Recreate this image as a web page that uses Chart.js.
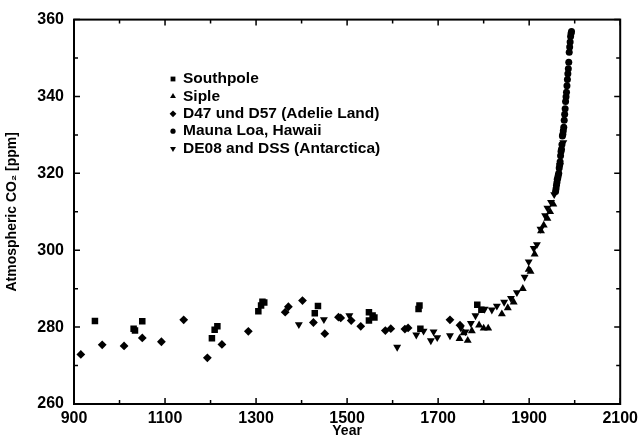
<!DOCTYPE html>
<html>
<head>
<meta charset="utf-8">
<script src="https://cdn.jsdelivr.net/npm/chart.js@4/dist/chart.umd.min.js"></script>
<style>
  html, body { margin: 0; padding: 0; background: #fff; }
  #wrap { width: 643px; height: 440px; }
</style>
</head>
<body>
<div id="wrap"><canvas id="myChart" width="643" height="440"></canvas></div>
<script>
// values
const southpoleYears = [946, 1031, 1034, 1050, 1203, 1209, 1215, 1305, 1311, 1314, 1318, 1429, 1436, 1548, 1548, 1556, 1560, 1657, 1659, 1661, 1786, 1795];
const southpoleCO2 = [281.6, 279.6, 279.1, 281.5, 277.1, 279.3, 280.2, 284.1, 285.6, 286.6, 286.4, 283.6, 285.5, 283.9, 281.7, 283.0, 282.5, 284.7, 285.6, 279.6, 285.8, 284.5];

const sipleYears = [1747, 1756, 1765, 1774, 1790, 1800, 1810, 1840, 1853, 1866, 1886, 1899, 1903, 1912, 1926, 1932, 1940, 1946, 1953];
const sipleCO2 = [277.0, 278.5, 276.5, 279.0, 280.5, 279.7, 279.7, 283.4, 285.0, 286.5, 290.0, 295.0, 294.5, 299.0, 305.0, 306.5, 308.3, 310.0, 312.0];

const adelieYears = [915, 962, 1010, 1050, 1092, 1141, 1193, 1225, 1283, 1364, 1371, 1402, 1426, 1451, 1481, 1486, 1509, 1530, 1584, 1596, 1627, 1634, 1726, 1748];
const adelieCO2 = [272.9, 275.4, 275.1, 277.2, 276.2, 281.9, 272.0, 275.5, 278.9, 283.9, 285.3, 286.9, 281.2, 278.3, 282.6, 282.4, 281.7, 280.2, 279.1, 279.6, 279.5, 279.8, 281.9, 280.5];

const maunaLoaYears = [1958, 1959, 1960, 1961, 1962, 1963, 1964, 1965, 1966, 1967, 1968, 1969, 1970, 1971, 1972, 1973, 1974, 1975, 1976, 1977, 1978, 1979, 1980, 1981, 1982, 1983, 1984, 1985, 1986, 1987, 1988, 1989, 1990, 1991, 1992, 1993];
const maunaLoaCO2 = [315.3, 316.0, 316.9, 317.6, 318.5, 319.0, 319.6, 320.0, 321.4, 322.2, 323.0, 324.6, 325.7, 326.3, 327.5, 329.7, 330.2, 331.1, 332.0, 333.8, 335.4, 336.8, 338.7, 339.9, 341.1, 342.8, 344.4, 345.9, 347.2, 348.9, 351.5, 352.9, 354.2, 355.6, 356.4, 356.9];

const de08Years = [1394, 1449, 1505, 1610, 1652, 1668, 1684, 1690, 1698, 1726, 1750, 1760, 1772, 1782, 1802, 1818, 1829, 1845, 1860, 1873, 1890, 1899, 1910, 1917, 1925, 1935, 1940, 1948, 1955, 1962, 1968, 1975];
const de08CO2 = [280.7, 282.0, 283.0, 274.8, 278.0, 279.0, 276.5, 278.8, 277.3, 277.8, 279.8, 278.8, 281.0, 283.0, 284.7, 284.5, 285.5, 286.5, 287.5, 289.0, 293.0, 297.0, 300.5, 301.5, 305.5, 309.0, 311.0, 312.5, 314.5, 318.0, 322.0, 328.0];

const seriesLabels = ['Southpole', 'Siple', 'D47 und D57 (Adelie Land)', 'Mauna Loa, Hawaii', 'DE08 and DSS (Antarctica)'];

function pts(xs, ys) {
    return xs.map((v, i) => ({x: v, y: ys[i]}));
}

const FONT = "'Liberation Sans', Arial, Helvetica, sans-serif";

const boxAndTicks = {
    id: 'boxAndTicks',
    afterDraw(chart) {
        const {ctx, chartArea: a, scales: {x, y}} = chart;
        ctx.save();
        ctx.strokeStyle = '#000';
        ctx.lineWidth = 2;
        ctx.strokeRect(a.left, a.top, a.right - a.left, a.bottom - a.top);
        ctx.lineWidth = 1.5;
        ctx.beginPath();
        for (let v = x.min; v <= x.max; v += 100) {
            const px = x.getPixelForValue(v);
            const len = (v - x.min) % 200 === 0 ? 6 : 4;
            ctx.moveTo(px, a.bottom); ctx.lineTo(px, a.bottom - len);
            ctx.moveTo(px, a.top); ctx.lineTo(px, a.top + len);
        }
        for (let v = y.min; v <= y.max; v += 10) {
            const py = y.getPixelForValue(v);
            const len = (v - y.min) % 20 === 0 ? 6 : 4;
            ctx.moveTo(a.left, py); ctx.lineTo(a.left + len, py);
            ctx.moveTo(a.right, py); ctx.lineTo(a.right - len, py);
        }
        ctx.stroke();

        // legend
        ctx.fillStyle = '#000';
        ctx.font = 'bold 15.5px ' + FONT;
        ctx.textBaseline = 'middle';
        chart.data.datasets.forEach((ds, i) => {
            const ly = 79 + i * 17.4;
            Chart.helpers.drawPoint(ctx, {
                pointStyle: ds.pointStyle,
                rotation: ds.pointRotation || 0,
                radius: ds.pointStyle === 'circle' ? 2.6 : 3.4,
                borderWidth: 0
            }, 173, ly);
            ctx.fillText(ds.label, 183, ly);
        });
        ctx.restore();
    }
};

const ctx = document.getElementById('myChart');
const myChart = new Chart(ctx, {
    type: 'scatter',
    plugins: [boxAndTicks],
    data: {
        datasets: [
            {label: seriesLabels[0], data: pts(southpoleYears, southpoleCO2), pointStyle: 'rect', pointRadius: 4.6},
            {label: seriesLabels[1], data: pts(sipleYears, sipleCO2), pointStyle: 'triangle', pointRadius: 4.6},
            {label: seriesLabels[2], data: pts(adelieYears, adelieCO2), pointStyle: 'rectRot', pointRadius: 4.4},
            {label: seriesLabels[3], data: pts(maunaLoaYears, maunaLoaCO2), pointStyle: 'circle', pointRadius: 3.5},
            {label: seriesLabels[4], data: pts(de08Years, de08CO2), pointStyle: 'triangle', pointRotation: 180, pointRadius: 4.6}
        ].map(d => Object.assign(d, {backgroundColor: '#000', borderColor: '#000', borderWidth: 0, pointHoverRadius: d.pointRadius}))
    },
    options: {
        responsive: false,
        animation: false,
        events: [],
        layout: {padding: {top: 17, right: 18, left: 0, bottom: 0}},
        plugins: {
            legend: {display: false},
            tooltip: {enabled: false}
        },
        scales: {
            x: {
                type: 'linear',
                min: 900,
                max: 2100,
                afterFit: (s) => { s.height = 36; },
                grid: {display: false, drawTicks: false},
                border: {display: false},
                ticks: {stepSize: 200, color: '#000', padding: 5, callback: (v) => String(v), font: {family: FONT, size: 16, weight: 'bold'}},
                title: {display: true, text: 'Year', color: '#000', padding: {top: 0, bottom: 0}, font: {family: FONT, size: 14, weight: 'bold'}}
            },
            y: {
                min: 260,
                max: 360,
                afterFit: (s) => { s.width = 74; },
                grid: {display: false, drawTicks: false},
                border: {display: false},
                ticks: {stepSize: 20, color: '#000', padding: 10, callback: (v) => String(v), font: {family: FONT, size: 16, weight: 'bold'}},
                title: {display: true, text: 'Atmospheric CO\u2082 [ppm]', color: '#000', padding: {top: 4, bottom: 0}, font: {family: FONT, size: 14, weight: 'bold'}}
            }
        }
    }
});
</script>
</body>
</html>
